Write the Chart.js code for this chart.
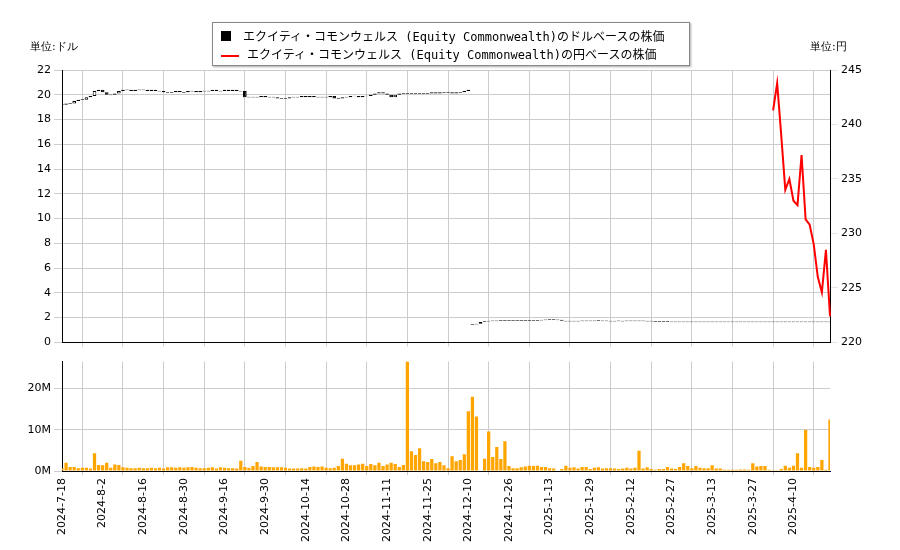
<!DOCTYPE html>
<html>
<head>
<meta charset="utf-8">
<script src="https://cdn.jsdelivr.net/npm/chart.js@4"></script>
<style>
body { margin:0; background:#fff; font-family:"DejaVu Sans", sans-serif; }
#wrap { position:relative; width:900px; height:550px; }
canvas { position:absolute; left:0; }
.legend { position:absolute; left:212px; top:22px; width:476px; height:42px; border:1px solid #888; background:#fff; font-size:12px; font-family:"DejaVu Sans Mono", "Noto Sans CJK JP", monospace; box-shadow:1px 1px 2px #aaa; }
.legend div { position:absolute; left:8px; white-space:nowrap; }
.unit { position:absolute; top:39px; font-size:11px; }
</style>
</head>
<body>
<div id="wrap">
<canvas id="priceChart" width="900" height="352" style="top:0"></canvas>
<canvas id="volChart" width="900" height="193" style="top:352px"></canvas>
<div class="legend">
  <div style="top:4px"><span style="display:inline-block;width:10px;height:10px;background:#000;margin-right:12px"></span>エクイティ・コモンウェルス (Equity Commonwealth)のドルベースの株価</div>
  <div style="top:22px"><span style="display:inline-block;width:18px;height:2px;background:red;vertical-align:middle;margin-right:8px"></span>エクイティ・コモンウェルス (Equity Commonwealth)の円ベースの株価</div>
</div>
<div class="unit" style="left:30px">単位:ドル</div>
<div class="unit" style="left:810px">単位:円</div>
</div>
<script>
const tickLabels = ['2024-7-18','2024-8-2','2024-8-16','2024-8-30','2024-9-16','2024-9-30','2024-10-14','2024-10-28','2024-11-11','2024-11-25','2024-12-10','2024-12-26','2025-1-13','2025-1-29','2025-2-12','2025-2-27','2025-3-13','2025-3-27','2025-4-10'];

const closeUsd = [
19.2,19.3,19.3,19.5,19.6,19.6,19.8,19.9,20.3,20.4,
20.2,20.0,20.0,20.1,20.3,20.4,20.4,20.3,20.4,20.4,
20.4,20.3,20.4,20.3,20.3,20.2,20.2,20.2,20.3,20.2,
20.2,20.3,20.3,20.2,20.3,20.3,20.3,20.4,20.3,20.3,
20.4,20.3,20.4,20.3,20.3,19.8,19.8,19.8,19.8,19.9,
19.8,19.8,19.8,19.7,19.7,19.7,19.8,19.8,19.8,19.9,
19.8,19.9,19.8,19.8,19.8,19.8,19.9,19.7,19.7,19.8,
19.8,19.9,19.9,19.8,19.9,19.9,20.0,20.1,20.2,20.1,
20.0,19.8,20.0,20.1,20.1,20.1,20.1,20.1,20.1,20.1,
20.1,20.2,20.1,20.2,20.2,20.2,20.1,20.2,20.2,20.3,
20.4,1.45,1.5,1.65,1.7,1.72,1.73,1.74,1.75,1.75,
1.76,1.76,1.76,1.77,1.77,1.78,1.78,1.78,1.8,1.82,
1.83,1.83,1.82,1.74,1.72,1.72,1.72,1.72,1.73,1.73,
1.73,1.74,1.75,1.74,1.73,1.72,1.72,1.73,1.72,1.73,
1.74,1.73,1.74,1.73,1.72,1.71,1.70,1.70,1.70,1.69,
1.66,1.66,1.66,1.66,1.66,1.66,1.66,1.66,1.66,1.66,
1.66,1.66,1.66,1.66,1.66,1.66,1.66,1.66,1.66,1.66,
1.66,1.66,1.66,1.66,1.66,1.66,1.66,1.66,1.66,1.66,
1.66,1.66,1.66,1.66,1.66,1.66,1.66,1.66,1.66,1.66
];
// first trading day after the big distribution (no body across the gap)
const gapIndex = 101;

// yen price only exists for the last 15 trading days
const yenStart = 175;
const closeYen = [241.3,243.8,239,234,235,233,232.6,237.2,231.3,230.8,229,226,224.6,228.5,222.4];

const volumeM = [
0.6,2.0,1.0,1.0,0.7,0.8,0.8,0.6,4.3,1.5,
1.4,2.0,0.8,1.6,1.5,0.9,0.8,0.7,0.7,0.8,
0.7,0.7,0.8,0.7,0.8,0.6,0.9,0.9,0.8,0.9,
0.8,0.9,1.0,0.8,0.7,0.7,0.8,0.9,0.6,0.9,
0.8,0.7,0.7,0.6,2.5,1.0,0.8,1.2,2.2,1.1,
1.0,1.0,0.9,0.9,0.9,0.8,0.6,0.6,0.6,0.7,
0.6,1.0,1.1,1.0,1.1,0.8,0.7,0.8,1.2,3.0,
1.8,1.4,1.4,1.6,1.8,1.2,1.7,1.4,2.0,1.2,
1.6,2.0,1.7,1.0,1.5,26.5,4.8,3.9,5.5,2.4,
2.2,2.9,1.9,2.2,1.4,0.7,3.6,2.4,2.7,4.1,
14.5,18.0,13.2,0,3.0,9.6,3.4,5.8,2.9,7.2,
1.2,0.7,0.7,0.9,1.1,1.3,1.2,1.3,1.0,1.0,
0.7,0.6,0.0,0.5,1.3,0.8,0.9,0.6,1.0,1.0,
0.5,0.8,0.9,0.6,0.7,0.7,0.6,0.5,0.6,0.8,
0.6,0.8,4.9,0.6,0.9,0.5,0.3,0.5,0.5,1.0,
0.6,0.5,1.0,1.9,1.2,0.7,1.2,0.8,0.7,0.7,
1.4,0.6,0.6,0.3,0.3,0.3,0.3,0.4,0.4,0.3,
1.9,1.1,1.2,1.2,0.3,0.2,0.2,0.5,1.3,0.8,
1.3,4.3,0.8,10.0,1.0,0.8,1.0,2.7,0.3,12.5
];

const labels = closeUsd.map((v, i) => i);
const bodies = closeUsd.map((c, i) => {
  const o = (i > 0 && i !== gapIndex) ? closeUsd[i - 1] : c;
  return Math.abs(c - o) < 0.04 ? [c - 0.03, c + 0.03] : [o, c];
});
const bodyColors = closeUsd.map((c, i) => (i > 0 && i !== gapIndex && c < closeUsd[i - 1]) ? '#000' : '#fff');
const yenData = labels.map(i => (i >= yenStart && i - yenStart < closeYen.length) ? closeYen[i - yenStart] : null);

Chart.defaults.font.family = 'DejaVu Sans';
Chart.defaults.font.size = 11;
Chart.defaults.color = '#000';
Chart.defaults.animation = false;

const gridC = '#cccccc';
function xTick(v) { return v % 10 === 0 ? tickLabels[v / 10] : ''; }

new Chart(document.getElementById('priceChart'), {
  data: {
    labels: labels,
    datasets: [
      { type: 'bar', data: bodies, backgroundColor: bodyColors, borderColor: '#000', borderWidth: 1, borderSkipped: false, barPercentage: 0.9, categoryPercentage: 1, yAxisID: 'y' },
      { type: 'line', data: yenData, borderColor: 'red', borderWidth: 2, pointRadius: 0, yAxisID: 'y2', spanGaps: false }
    ]
  },
  options: {
    responsive: false,
    layout: { padding: { top: 70, bottom: 0 } },
    plugins: { legend: { display: false }, tooltip: { enabled: false } },
    scales: {
      x: { offset: false, grid: { color: gridC, drawTicks: true, tickLength: 4 }, border: { color: '#000' },
           ticks: { autoSkip: false, display: false, callback: xTick },
           afterBuildTicks: s => { s.ticks = s.ticks.filter(t => t.value % 10 === 0); } },
      y: { position: 'left', min: 0, max: 22, ticks: { stepSize: 2 }, grid: { color: gridC },
           border: { color: '#000' }, afterFit: s => { s.width = 62; } },
      y2: { position: 'right', min: 220, max: 245, ticks: { stepSize: 5 }, grid: { drawOnChartArea: false },
            border: { color: '#000' }, afterFit: s => { s.width = 70; } }
    }
  }
});

new Chart(document.getElementById('volChart'), {
  data: {
    labels: labels,
    datasets: [
      { type: 'bar', data: volumeM, backgroundColor: 'orange', barPercentage: 0.8, categoryPercentage: 1 }
    ]
  },
  options: {
    responsive: false,
    layout: { padding: { top: 8, right: 70 } },
    plugins: { legend: { display: false }, tooltip: { enabled: false } },
    scales: {
      x: { offset: false, grid: { color: gridC, tickLength: 4 }, border: { color: '#000' },
           ticks: { autoSkip: false, maxRotation: 90, minRotation: 90, callback: xTick },
           afterBuildTicks: s => { s.ticks = s.ticks.filter(t => t.value % 10 === 0); } },
      y: { min: 0, max: 26.5, afterBuildTicks: s => { s.ticks = [{ value: 0 }, { value: 10 }, { value: 20 }]; },
           ticks: { callback: v => v + 'M' }, grid: { color: gridC }, border: { color: '#000' },
           afterFit: s => { s.width = 62; } }
    }
  }
});
</script>
</body>
</html>
